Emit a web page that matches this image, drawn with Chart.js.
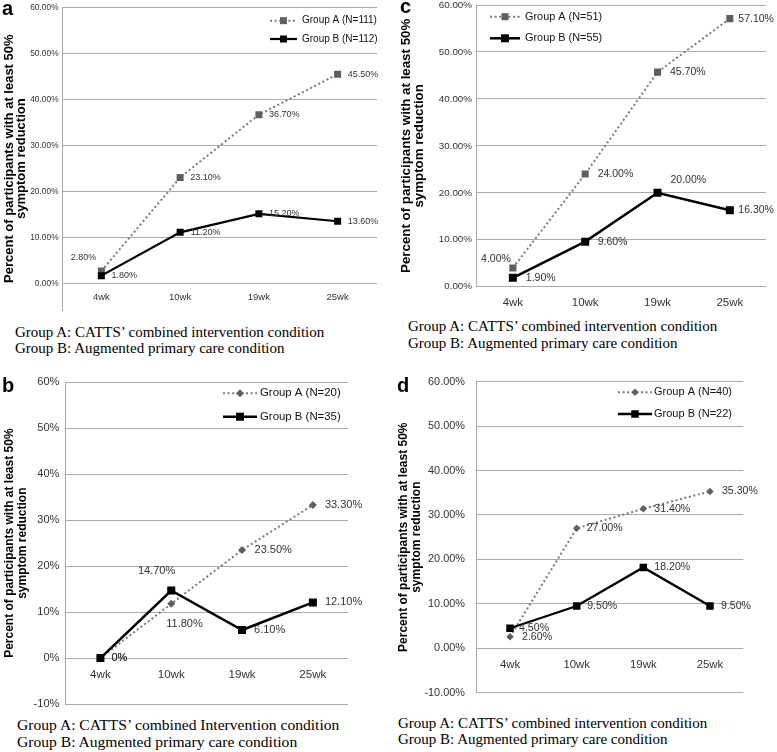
<!DOCTYPE html>
<html>
<head>
<meta charset="utf-8">
<script src="https://cdn.jsdelivr.net/npm/chart.js@4.4.1/dist/chart.umd.min.js"></script>
<style>
  html, body { margin: 0; padding: 0; background: #fff; }
  body { width: 777px; height: 752px; position: relative; overflow: hidden; }
  canvas { position: absolute; }
  .cap { position: absolute; font-family: "Liberation Serif", "Times New Roman", serif; font-size: 15px; line-height: 16px; color: #000; white-space: nowrap; }
  .tag { position: absolute; font-family: "Liberation Sans", Arial, sans-serif; font-weight: bold; font-size: 20px; line-height: 20px; color: #000; }
</style>
</head>
<body>
<canvas id="pa" width="385" height="315" style="left:0;top:0"></canvas>
<canvas id="pc" width="392" height="320" style="left:385px;top:-5px"></canvas>
<canvas id="pb" width="385" height="340" style="left:0;top:370px"></canvas>
<canvas id="pd" width="392" height="330" style="left:385px;top:370px"></canvas>

<div class="tag" style="left:2px;top:-2px">a</div>
<div class="tag" style="left:400px;top:-4px">c</div>
<div class="tag" style="left:2px;top:375px">b</div>
<div class="tag" style="left:397px;top:375px">d</div>

<div class="cap" style="left:15px;top:324px">Group A: CATTS’ combined intervention condition<br>Group B: Augmented primary care condition</div>
<div class="cap" style="left:408px;top:318px;line-height:16.5px">Group A: CATTS’ combined intervention condition<br>Group B: Augmented primary care condition</div>
<div class="cap" style="left:17px;top:716px;font-size:15.6px;line-height:17px">Group A: CATTS’ combined Intervention condition<br>Group B: Augmented primary care condition</div>
<div class="cap" style="left:398px;top:715px">Group A: CATTS’ combined intervention condition<br>Group B: Augmented primary care condition</div>

<script>
// weeks on the x axis, shared by all four panels
const weeks = ['4wk', '10wk', '19wk', '25wk'];
const yTitle = ['Percent of participants with at least 50%', 'symptom reduction'];

// y tick values
const ticksPos = [0, 10, 20, 30, 40, 50, 60];
const ticksNeg = [-10, 0, 10, 20, 30, 40, 50, 60];

// panel a
const namesA = ['Group A (N=111)', 'Group B (N=112)'];
const groupA_a = [2.8, 23.1, 36.7, 45.5];
const groupB_a = [1.8, 11.2, 15.2, 13.6];

// panel b
const namesB = ['Group A (N=20)', 'Group B (N=35)'];
const groupA_b = [0, 11.8, 23.5, 33.3];
const groupB_b = [0, 14.7, 6.1, 12.1];

// panel c
const namesC = ['Group A (N=51)', 'Group B (N=55)'];
const groupA_c = [4.0, 24.0, 45.7, 57.1];
const groupB_c = [1.9, 9.6, 20.0, 16.3];

// panel d
const namesD = ['Group A (N=40)', 'Group B (N=22)'];
const groupA_d = [2.6, 27.0, 31.4, 35.3];
const groupB_d = [4.5, 9.5, 18.2, 9.5];

// where each value label sits next to its point: [dx, dy, align]
const spotsA_a = [[-5, -14, 'right'], [10, 0], [10, 0], [10, 0]];
const spotsB_a = [[10, 0], [10.5, 0], [10, 0], [10, 0]];
const spotsA_c = [[-2, -9, 'right'], [12.5, 0], [12.5, 0], [8.5, 0]];
const spotsB_c = [[13, 0], [12.5, 0], [13, -13], [8.5, 0]];
const spotsA_b = [[11, 0], [-5, 20], [12.5, 0], [12, 0]];
const spotsB_b = [[11, 0], [4, -20, 'right'], [12, 0], [12, 0]];
const spotsA_d = [[12, 0], [10, 0], [11, 0], [12, 0]];
const spotsB_d = [[9, 0], [10.5, 0], [11, 0], [11, 0]];

const SANS = '"Liberation Sans", Arial, sans-serif';
const greyMark = '#5f5f5f';
const greyLine = '#7a7a7a';
const gridGrey = '#ababab';
const textGrey = '#333333';

const two = v => v.toFixed(2) + '%';
const plain = v => v + '%';
const twoOrZero = v => (v === 0 ? '0%' : v.toFixed(2) + '%');

function makePanel(id, p) {
  const decor = {
    id: 'decor_' + id,
    afterDatasetsDraw(chart) {
      const c = chart.ctx;
      c.save();
      c.font = p.labelSize + 'px ' + SANS;
      c.fillStyle = textGrey;
      c.textBaseline = 'middle';
      [[0, p.spotsA], [1, p.spotsB]].forEach(([di, spots]) => {
        const meta = chart.getDatasetMeta(di);
        meta.data.forEach((pt, i) => {
          const s = spots[i];
          c.textAlign = s[2] || 'left';
          c.fillText(p.fmtLabel(chart.data.datasets[di].data[i]), pt.x + s[0], pt.y + s[1]);
        });
      });
      c.restore();
    },
    afterDraw(chart) {
      // legend inside the plot area
      const c = chart.ctx, area = chart.chartArea, L = p.legend;
      c.save();
      c.font = p.legendSize + 'px ' + SANS;
      c.textBaseline = 'middle';
      c.textAlign = 'left';
      chart.data.datasets.forEach((ds, i) => {
        const y = area.top + L.top + i * L.row;
        const x0 = area.left + L.left;
        c.strokeStyle = ds.borderColor;
        c.lineWidth = ds.borderWidth;
        c.setLineDash(ds.borderDash || []);
        c.beginPath();
        c.moveTo(x0, y);
        c.lineTo(x0 + L.sample, y);
        c.stroke();
        c.setLineDash([]);
        c.fillStyle = ds.pointBackgroundColor;
        Chart.helpers.drawPoint(c, { pointStyle: ds.pointStyle, radius: ds.pointRadius, borderWidth: 0, rotation: 0 }, x0 + L.sample / 2, y);
        c.fillStyle = '#111';
        c.fillText(ds.label, x0 + L.sample + L.gap, y);
      });
      c.restore();
    }
  };

  return new Chart(document.getElementById(id), {
    type: 'line',
    data: {
      labels: weeks,
      datasets: [{
        label: p.names[0],
        data: p.a,
        borderColor: greyLine,
        borderWidth: 2,
        borderDash: [2, 2.6],
        pointStyle: p.markA,
        pointRadius: p.sizeA,
        pointBorderWidth: 0,
        pointBackgroundColor: greyMark,
        pointBorderColor: greyMark,
        order: 1
      }, {
        label: p.names[1],
        data: p.b,
        borderColor: '#000',
        borderWidth: p.widthB,
        pointStyle: 'rect',
        pointRadius: p.sizeB,
        pointBorderWidth: 0,
        pointBackgroundColor: '#000',
        pointBorderColor: '#000',
        order: 0
      }]
    },
    options: {
      responsive: false,
      animation: false,
      events: [],
      layout: { padding: p.pad },
      plugins: { legend: { display: false }, tooltip: { enabled: false } },
      scales: {
        x: {
          type: 'category',
          position: { y: 0 },
          offset: true,
          grid: { display: false, drawTicks: false },
          border: { display: false },
          ticks: { font: { family: SANS, size: p.xSize }, color: textGrey, padding: p.xPad, maxRotation: 0 }
        },
        y: {
          min: p.yMin,
          max: p.yMax,
          afterFit: s => {
            // fixed axis width; labels may overhang the plot edges
            s.width = p.axisW;
            s.paddingTop = 0;
            s.paddingBottom = 0;
          },
          afterBuildTicks: s => { s.ticks = p.yTicks.map(v => ({ value: v })); },
          grid: { color: gridGrey, drawTicks: false },
          border: { display: true, color: gridGrey },
          ticks: {
            font: { family: SANS, size: p.tickSize },
            color: textGrey,
            padding: p.tickPad,
            callback: v => p.fmtTick(v)
          },
          title: {
            display: true,
            text: yTitle,
            color: '#000',
            font: { family: SANS, size: p.titleSize, weight: 'bold', lineHeight: p.titleLh },
            padding: { top: p.titlePad, bottom: 0 }
          }
        }
      }
    },
    plugins: [decor]
  });
}

makePanel('pa', {
  a: groupA_a, b: groupB_a, names: namesA, markA: 'rect', sizeA: 4.95, sizeB: 4.95, widthB: 2.2,
  yMin: -5.66, yMax: 60, yTicks: ticksPos, fmtTick: two, fmtLabel: two,
  axisW: 62, pad: { top: 7.3, right: 8, bottom: 3, left: 0 },
  tickSize: 8.4, tickPad: 3.4, xSize: 9.5, xPad: 8, labelSize: 9, legendSize: 10,
  titleSize: 13, titleLh: 0.95, titlePad: 3.1,
  legend: { left: 208, top: 13.4, row: 18.3, sample: 27, gap: 5 },
  spotsA: spotsA_a, spotsB: spotsB_a
});

makePanel('pc', {
  a: groupA_c, b: groupB_c, names: namesC, markA: 'rect', sizeA: 5, sizeB: 5.66, widthB: 2.5,
  yMin: 0, yMax: 60, yTicks: ticksPos, fmtTick: two, fmtLabel: two,
  axisW: 91.7, pad: { top: 10, right: 11, bottom: 28.3, left: 0 },
  tickSize: 9.8, tickPad: 4.7, xSize: 11.5, xPad: 9, labelSize: 10.5, legendSize: 10.9,
  titleSize: 13.3, titleLh: 0.95, titlePad: 15.4,
  legend: { left: 13.3, top: 11.7, row: 21.6, sample: 30, gap: 5 },
  spotsA: spotsA_c, spotsB: spotsB_c
});

makePanel('pb', {
  a: groupA_b, b: groupB_b, names: namesB, markA: 'rectRot', sizeA: 4, sizeB: 5.66, widthB: 2.5,
  yMin: -10, yMax: 60, yTicks: ticksNeg, fmtTick: plain, fmtLabel: twoOrZero,
  axisW: 65, pad: { top: 12.3, right: 36.7, bottom: 6, left: 0 },
  tickSize: 11, tickPad: 5.7, xSize: 11.6, xPad: 9.5, labelSize: 11, legendSize: 11.4,
  titleSize: 12, titleLh: 1.08, titlePad: 3.5,
  legend: { left: 158, top: 11, row: 23.4, sample: 34, gap: 3 },
  spotsA: spotsA_b, spotsB: spotsB_b
});

makePanel('pd', {
  a: groupA_d, b: groupB_d, names: namesD, markA: 'rectRot', sizeA: 3.7, sizeB: 5.3, widthB: 2.3,
  yMin: -10, yMax: 60, yTicks: ticksNeg, fmtTick: two, fmtLabel: two,
  axisW: 91.7, pad: { top: 11.7, right: 33.7, bottom: 7.3, left: 0 },
  tickSize: 10.9, tickPad: 11.7, xSize: 11.4, xPad: 9.5, labelSize: 10.6, legendSize: 11,
  titleSize: 12, titleLh: 1.05, titlePad: 12.7,
  legend: { left: 141.3, top: 10.6, row: 21.7, sample: 34, gap: 2 },
  spotsA: spotsA_d, spotsB: spotsB_d
});
</script>
</body>
</html>
